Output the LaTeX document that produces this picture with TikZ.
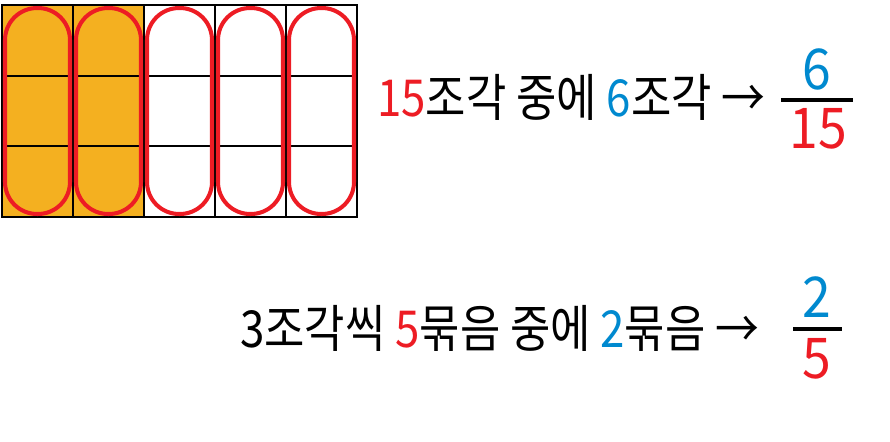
\documentclass[tikz,border=0pt]{standalone}
\usepackage{fontspec}
\setmainfont{Noto Sans CJK KR}
\usetikzlibrary{positioning}
\definecolor{piecered}{RGB}{237,28,36}
\definecolor{pieceblue}{RGB}{0,137,207}
\definecolor{piecefill}{RGB}{244,176,32}

\begin{document}
\begin{tikzpicture}[x=0.02cm, y=-0.02cm,
    cell/.style={draw, line width=1.1pt, minimum width=1.42cm, minimum height=1.4133cm, inner sep=0pt},
    shaded/.style={cell, fill=piecefill},
    group/.style={draw=piecered, line width=2.3pt, minimum width=1.3cm, minimum height=4.12cm, rounded corners=0.64cm, inner sep=0pt},
    words/.style={font=\fontsize{29}{34}\selectfont\addfontfeature{FakeStretch=0.86}, inner sep=0pt, anchor=base west},
    frac/.style={font=\fontsize{32}{38}\selectfont\addfontfeature{FakeStretch=0.92}, inner sep=0pt, anchor=base}]
    \useasboundingbox (0,0) rectangle (890,442);

    % 15 pieces, first two columns shaded
    \foreach \c in {1,...,5}{
      \foreach \r in {1,2,3}{
        \ifnum\c<3 \def\cellstyle{shaded}\else \def\cellstyle{cell}\fi
        \node[\cellstyle] (cell-\c-\r) at (71*\c-33.5, 70.67*\r-30.33) {};
      }
    }
    % groups of 3
    \foreach \c in {1,...,5}
      \node[group] (group-\c) at (cell-\c-2) {};

    \node[words] (line1) at (377,117) {{\color{piecered}15}조각 중에 {\color{pieceblue}6}조각 →};
    \node[frac, text=pieceblue] (num1) at (817,90) {6};
    \node[frac, text=piecered] (den1) at (818,149) {15};
    \draw[line width=2.3pt] (781,100) -- (853,100);

    \node[words] (line2) at (240,348) {3조각씩 {\color{piecered}5}묶음 중에 {\color{pieceblue}2}묶음 →};
    \node[frac, text=pieceblue] (num2) at (817,318) {2};
    \node[frac, text=piecered] (den2) at (817,378) {5};
    \draw[line width=2.3pt] (793,329) -- (842,329);
\end{tikzpicture}
\end{document}
